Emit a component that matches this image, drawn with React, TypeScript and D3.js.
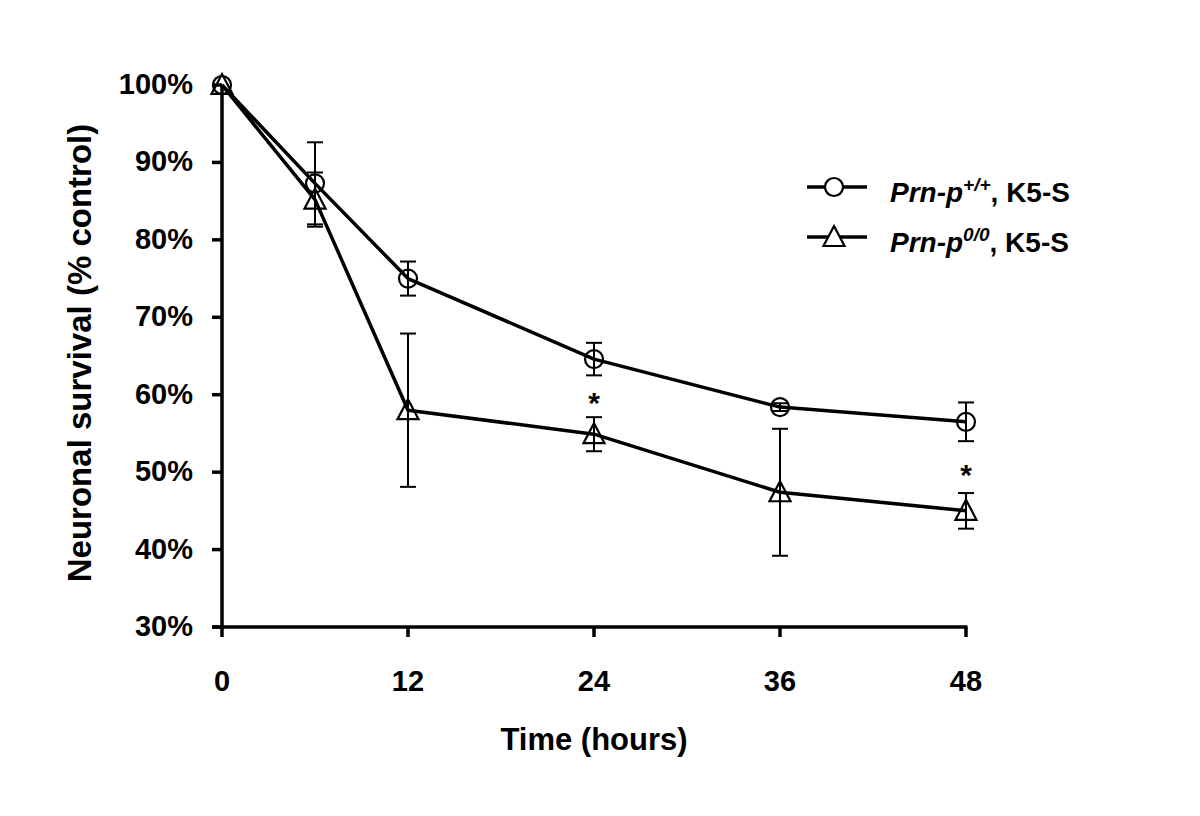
import React from "react";
import * as d3 from "d3";

const hours = [0, 6, 12, 24, 36, 48];
const wtMean = [100, 87.3, 75.0, 64.6, 58.4, 56.5];
const wtErr = [0, 5.3, 2.2, 2.1, 0.5, 2.5];
const koMean = [100, 85.2, 58.0, 54.9, 47.4, 45.0];
const koErr = [0, 3.5, 9.9, 2.2, 8.2, 2.3];
const xTicks = [0, 12, 24, 36, 48];
const yTicks = [30, 40, 50, 60, 70, 80, 90, 100];
const sigHours = [24, 48];
const sigLevels = [59.8, 50.5];

const FONT = "'Liberation Sans', Arial, sans-serif";

export default function App() {
  const x = d3.scaleLinear().domain([0, 48]).range([222, 966]);
  const y = d3.scaleLinear().domain([30, 100]).range([627, 85]);
  const line = d3
    .line<[number, number]>()
    .x((d) => x(d[0]))
    .y((d) => y(d[1]));

  const wt = hours.map((h, i) => [h, wtMean[i]] as [number, number]);
  const ko = hours.map((h, i) => [h, koMean[i]] as [number, number]);

  const tri = (cx: number, cy: number) =>
    `M${cx},${cy - 11} L${cx + 10.5},${cy + 9} L${cx - 10.5},${cy + 9} Z`;

  const errBars = (means: number[], errs: number[], key: string) =>
    hours.map((h, i) =>
      errs[i] > 0 ? (
        <g key={key + i} stroke="#000" strokeWidth={2}>
          <line x1={x(h)} x2={x(h)} y1={y(means[i] + errs[i])} y2={y(means[i] - errs[i])} />
          <line x1={x(h) - 8} x2={x(h) + 8} y1={y(means[i] + errs[i])} y2={y(means[i] + errs[i])} />
          <line x1={x(h) - 8} x2={x(h) + 8} y1={y(means[i] - errs[i])} y2={y(means[i] - errs[i])} />
        </g>
      ) : null
    );

  return (
    <svg
      width={1200}
      height={816}
      style={{ position: "absolute", left: 0, top: 0, background: "#fff" }}
      fontFamily={FONT}
    >
      <rect width={1200} height={816} fill="#fff" />
      {/* axes */}
      <line x1={222} x2={222} y1={y(100)} y2={y(30) + 1.5} stroke="#000" strokeWidth={3.5} />
      <line x1={212} x2={x(48) + 1.5} y1={y(30)} y2={y(30)} stroke="#000" strokeWidth={3.5} />
      {yTicks.map((t) => (
        <g key={"yt" + t}>
          <line x1={212} x2={222} y1={y(t)} y2={y(t)} stroke="#000" strokeWidth={3.5} />
          <text x={193} y={y(t) + 9} textAnchor="end" fontSize={29} fontWeight="bold">
            {t}%
          </text>
        </g>
      ))}
      {xTicks.map((t) => (
        <g key={"xt" + t}>
          <line x1={x(t)} x2={x(t)} y1={y(30)} y2={y(30) + 10} stroke="#000" strokeWidth={3.5} />
          <text x={x(t)} y={691} textAnchor="middle" fontSize={29} fontWeight="bold">
            {t}
          </text>
        </g>
      ))}
      <text x={594} y={750} textAnchor="middle" fontSize={31} fontWeight="bold">
        Time (hours)
      </text>
      <text
        transform={`translate(91,353) rotate(-90)`}
        textAnchor="middle"
        fontSize={33}
        fontWeight="bold"
      >
        Neuronal survival (% control)
      </text>

      {/* series lines */}
      <path d={line(wt) || ""} fill="none" stroke="#000" strokeWidth={3.5} strokeLinejoin="round" />
      <path d={line(ko) || ""} fill="none" stroke="#000" strokeWidth={3.5} strokeLinejoin="round" />

      {errBars(wtMean, wtErr, "we")}
      {errBars(koMean, koErr, "ke")}

      {wt.map((d, i) => (
        <circle key={"wc" + i} cx={x(d[0])} cy={y(d[1])} r={9} fill="none" stroke="#000" strokeWidth={2.2} />
      ))}
      {ko.map((d, i) => (
        <path key={"kt" + i} d={tri(x(d[0]), y(d[1]))} fill="none" stroke="#000" strokeWidth={2.2} />
      ))}

      {sigHours.map((h, i) => (
        <text
          key={"sig" + i}
          x={x(h)}
          y={y(sigLevels[i]) + 17}
          textAnchor="middle"
          fontSize={30}
          fontWeight="bold"
        >
          *
        </text>
      ))}

      {/* legend */}
      <g>
        <line x1={807} x2={867} y1={187} y2={187} stroke="#000" strokeWidth={3.5} />
        <circle cx={834} cy={187} r={9} fill="#fff" stroke="#000" strokeWidth={2.2} />
        <text x={890} y={202} fontSize={28} fontWeight="bold">
          <tspan fontStyle="italic">Prn-p</tspan>
          <tspan fontStyle="italic" fontSize={19} dy={-11}>+/+</tspan>
          <tspan dy={11}>, K5-S</tspan>
        </text>
        <line x1={807} x2={867} y1={237} y2={237} stroke="#000" strokeWidth={3.5} />
        <path d={tri(834, 237)} fill="#fff" stroke="#000" strokeWidth={2.2} />
        <text x={890} y={252} fontSize={28} fontWeight="bold">
          <tspan fontStyle="italic">Prn-p</tspan>
          <tspan fontStyle="italic" fontSize={19} dy={-11}>0/0</tspan>
          <tspan dy={11}>, K5-S</tspan>
        </text>
      </g>
    </svg>
  );
}
